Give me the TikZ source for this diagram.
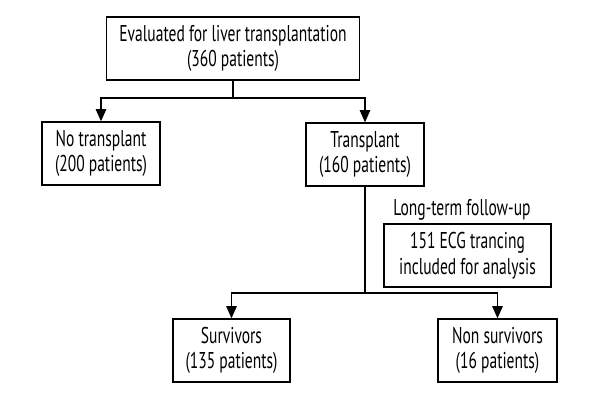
\documentclass[tikz,border=0pt]{standalone}
\usepackage{fontspec}
\setmainfont{PT Sans}[FakeStretch=0.68]
\usetikzlibrary{arrows.meta}

\begin{document}
\begin{tikzpicture}[%
  box/.style={draw, line width=0.75pt, inner sep=0pt, align=center, minimum height=1.26cm, font=\fontsize{13}{14.5}\selectfont},%
  flow/.style={line width=0.75pt, -{Triangle[length=7pt, width=6pt]}},%
  stem/.style={line width=0.75pt}]%
\fill[white] (0, 0) rectangle (12, -8);%
% boxes
\node[box, minimum width=5.06cm] (eval) at (4.66, -0.97) {Evaluated for liver transplantation\\(360 patients)};%
\node[box, minimum width=2.36cm] (notx) at (2.02, -3.07) {No transplant\\(200 patients)};%
\node[box, minimum width=2.36cm] (tx) at (7.30, -3.09) {Transplant\\(160 patients)};%
\node[font=\fontsize{13}{14.5}\selectfont] (follow) at (9.24, -4.20) {Long-term follow-up};%
\node[box, minimum width=3.34cm] (ecg) at (9.35, -5.11) {151 ECG trancing\\included for analysis};%
\node[box, minimum width=2.34cm] (surv) at (4.63, -7.01) {Survivors\\(135 patients)};%
\node[box, minimum width=2.38cm] (nonsurv) at (9.95, -7.01) {Non survivors\\(16 patients)};%
% connectors
\coordinate (splitA) at (4.66, -1.96);%
\coordinate (splitB) at (7.30, -5.86);%
\draw[stem] (eval.south) -- (splitA);%
\draw[flow] (splitA) -| (notx.north);%
\draw[flow] (splitA) -| (tx.north);%
\draw[stem] (tx.south) -- (splitB);%
\draw[flow] (splitB) -| (surv.north);%
\draw[flow] (splitB) -| (nonsurv.north);%
\end{tikzpicture}
\end{document}
